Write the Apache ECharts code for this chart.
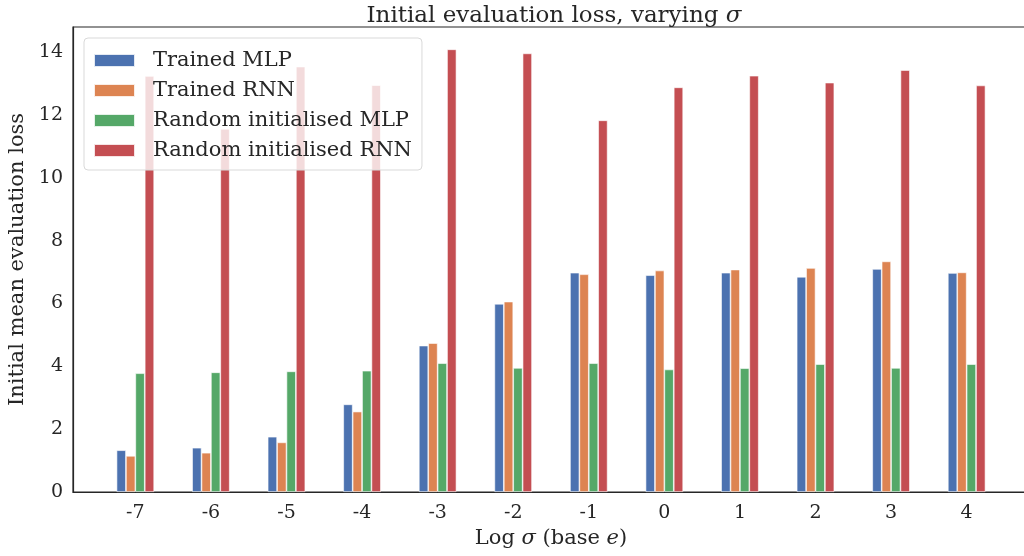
<!DOCTYPE html>
<html>
<head>
<meta charset="utf-8">
<script src="https://cdn.jsdelivr.net/npm/echarts@6/dist/echarts.min.js"></script>
<style>
  html, body { margin: 0; padding: 0; background: #fff; }
  #chart { width: 1024px; height: 556px; }
</style>
</head>
<body>
<div id="chart"></div>
<script>
// log sigma values (base e)
const logSigma = [-7, -6, -5, -4, -3, -2, -1, 0, 1, 2, 3, 4]
// initial mean evaluation loss per model
const trainedMLP = [1.33, 1.41, 1.76, 2.79, 4.66, 5.99, 6.98, 6.90, 6.98, 6.85, 7.10, 6.97]
const trainedRNN = [1.15, 1.25, 1.58, 2.56, 4.74, 6.06, 6.93, 7.05, 7.08, 7.13, 7.34, 6.99]
const randomMLP = [3.78, 3.81, 3.84, 3.86, 4.10, 3.95, 4.10, 3.90, 3.94, 4.07, 3.95, 4.07]
const randomRNN = [13.24, 11.56, 13.54, 12.95, 14.09, 13.96, 11.83, 12.88, 13.25, 13.03, 13.43, 12.94]
const yTicks = [0, 2, 4, 6, 8, 10, 12, 14]

const FONT = 'DejaVu Serif'
const TEXT = '#262626'

// 只显示整数刻度
function intLabel(v) {
  return Math.abs(v - Math.round(v)) < 1e-6 ? String(Math.round(v)) : ''
}

function barSeries(name, color, values) {
  return {
    name: name,
    type: 'bar',
    barWidth: 9.4,
    barGap: '0%',
    itemStyle: { color: color, borderColor: 'rgba(255,255,255,0.85)', borderWidth: 0.7 },
    data: values.map((v, i) => [logSigma[i], v])
  }
}

const chart = echarts.init(document.getElementById('chart'), null, { renderer: 'canvas' })
chart.setOption({
  animation: false,
  textStyle: { fontFamily: FONT },
  title: {
    text: 'Initial evaluation loss, varying {i|σ}',
    left: 549,
    top: 0,
    textAlign: 'center',
    textStyle: {
      fontFamily: FONT, fontSize: 23, fontWeight: 'normal', color: TEXT,
      rich: { i: { fontFamily: FONT, fontSize: 23, fontStyle: 'italic', color: TEXT } }
    }
  },
  grid: {
    left: 73, top: 27, width: 956, height: 465,
    outerBoundsMode: 'none',
    containLabel: false,
    show: true, borderColor: '#262626', borderWidth: 1.2, backgroundColor: '#fff'
  },
  legend: {
    orient: 'vertical',
    left: 84,
    top: 38,
    icon: 'rect',
    itemWidth: 41,
    itemHeight: 13,
    itemGap: 9,
    padding: [12, 10, 9, 9],
    backgroundColor: 'rgba(255,255,255,0.8)',
    borderColor: '#d9d9d9',
    borderWidth: 1,
    borderRadius: 4,
    textStyle: { fontFamily: FONT, fontSize: 21, color: TEXT, padding: [0, 0, 0, 13] }
  },
  xAxis: {
    type: 'value',
    min: -7.825,
    max: 4.825,
    splitNumber: 12,
    splitLine: { show: false },
    axisTick: { show: false },
    axisLine: { show: true, onZero: false, lineStyle: { color: '#262626', width: 1.2 } },
    axisLabel: { fontFamily: FONT, fontSize: 19, color: TEXT, margin: 12, formatter: intLabel },
    name: 'Log {i|σ} (base {i|e})',
    nameLocation: 'middle',
    nameGap: 34,
    nameTextStyle: {
      fontFamily: FONT, fontSize: 21, color: TEXT,
      rich: { i: { fontFamily: FONT, fontSize: 21, fontStyle: 'italic', color: TEXT } }
    }
  },
  yAxis: {
    type: 'value',
    min: yTicks[0],
    max: 14.8,
    interval: 2,
    splitLine: { show: false },
    axisTick: { show: false },
    axisLine: { show: true, onZero: false, lineStyle: { color: '#262626', width: 1.2 } },
    axisLabel: {
      fontFamily: FONT, fontSize: 19, color: TEXT, margin: 10,
      formatter: v => (yTicks.indexOf(v) >= 0 ? String(v) : '')
    },
    name: 'Initial mean evaluation loss',
    nameLocation: 'middle',
    nameGap: 33,
    nameTextStyle: { fontFamily: FONT, fontSize: 21, color: TEXT }
  },
  series: [
    barSeries('Trained MLP', '#4c72b0', trainedMLP),
    barSeries('Trained RNN', '#dd8452', trainedRNN),
    barSeries('Random initialised MLP', '#55a868', randomMLP),
    barSeries('Random initialised RNN', '#c44e52', randomRNN)
  ]
})
</script>
</body>
</html>
